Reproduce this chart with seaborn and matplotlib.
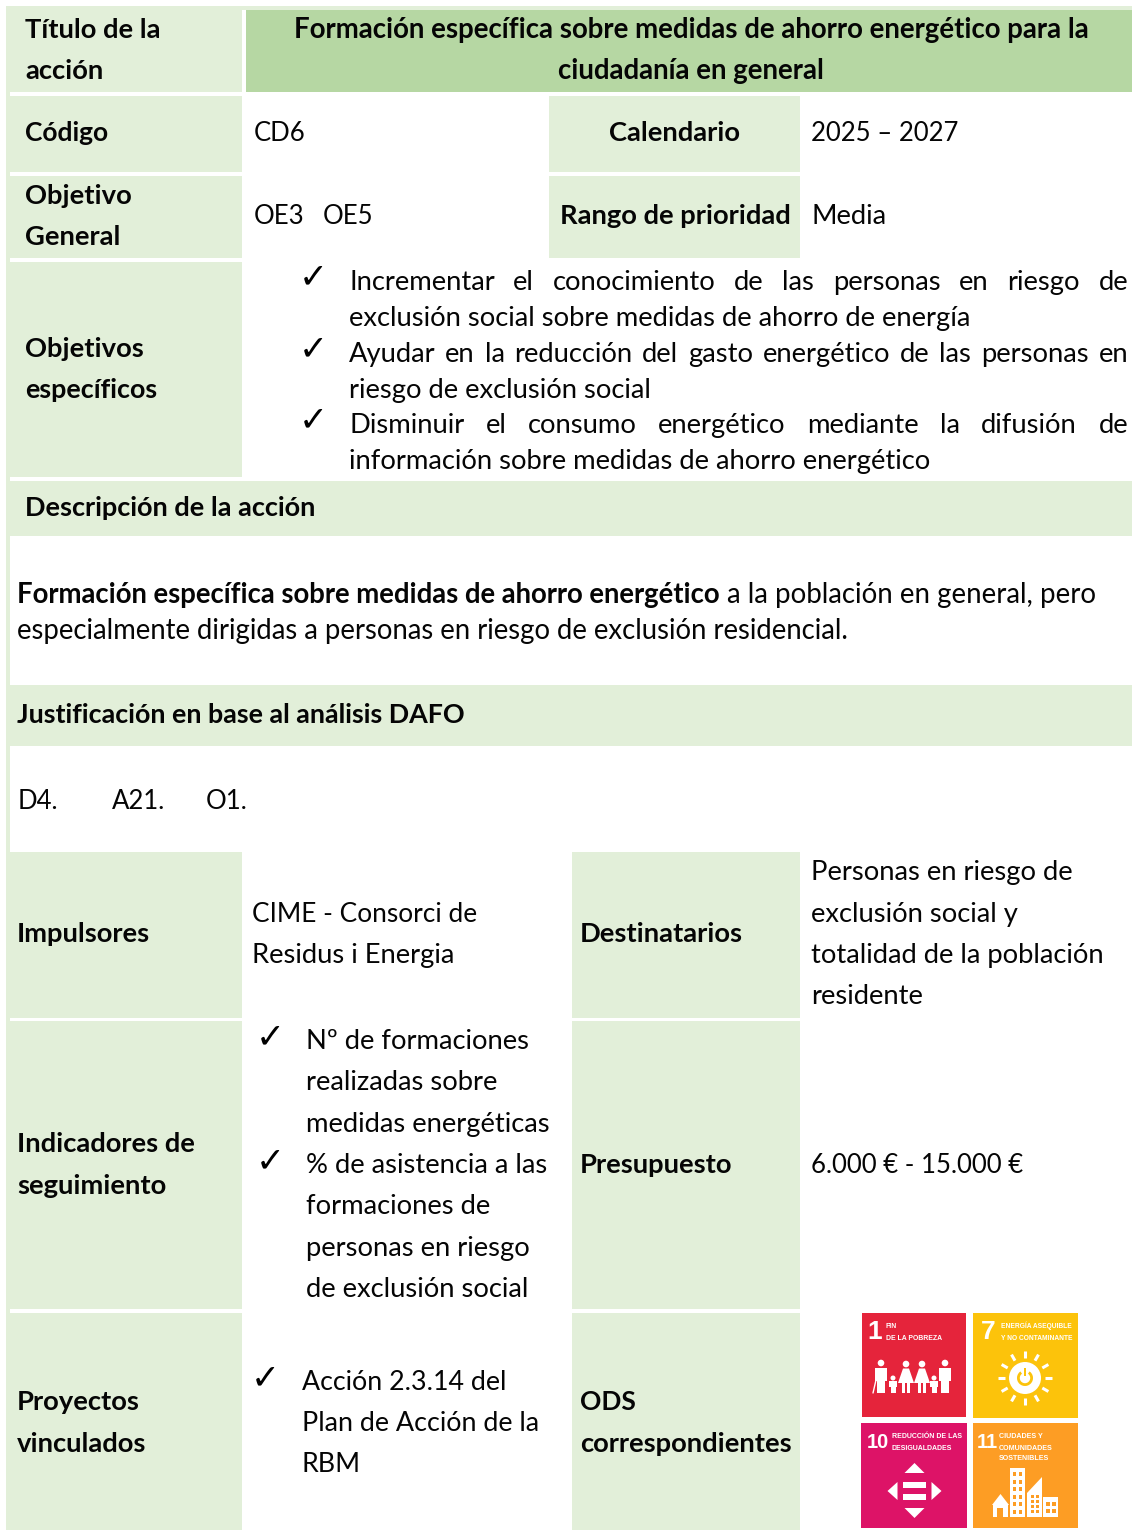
import matplotlib
matplotlib.use('Agg')
import matplotlib.pyplot as plt
from matplotlib.patches import Rectangle, Circle, Polygon, Wedge
import numpy as np
import seaborn as sns

# Textos de la ficha
titulo_lineas = ['Formación específica sobre medidas de ahorro energético para la',
                 'ciudadanía en general']
objetivos = [['Incrementar el conocimiento de las personas en riesgo de',
              'exclusión social sobre medidas de ahorro de energía'],
             ['Ayudar en la reducción del gasto energético de las personas en',
              'riesgo de exclusión social'],
             ['Disminuir el consumo energético mediante la difusión de',
              'información sobre medidas de ahorro energético']]
dafo = ['D4.', 'A21.', 'O1.']
impulsores = ['CIME - Consorci de', 'Residus i Energia']
destinatarios = ['Personas en riesgo de', 'exclusión social y',
                 'totalidad de la población', 'residente']
indicadores = [['Nº de formaciones', 'realizadas sobre', 'medidas energéticas'],
               ['% de asistencia a las', 'formaciones de',
                'personas en riesgo', 'de exclusión social']]
proyectos = ['Acción 2.3.14 del', 'Plan de Acción de la', 'RBM']

sns.set_theme(style='white')
plt.rcParams['font.family'] = ['Lato', 'DejaVu Sans']
claro, oscuro = sns.color_palette(['#e2efd9', '#b6d7a3'])
TINTA = '#050505'
FS = 19.7
FS_NUM = 18.5  # las cifras de Lato son mas anchas

fig, ax = plt.subplots(figsize=(11.32, 15.30), dpi=100)
ax.set_position([0, 0, 1, 1])

# Celdas: izquierda, arriba, derecha, abajo, color
celdas = [(6, 6, 1132, 10, claro), (6, 6, 10, 1530, claro),
          (10, 10, 242, 92, claro), (246, 10, 1132, 92, oscuro),
          (10, 96, 242, 172, claro), (549, 96, 800, 172, claro),
          (10, 176, 242, 258, claro), (549, 176, 800, 258, claro),
          (10, 262, 242, 477, claro), (10, 481, 1132, 536, claro),
          (10, 685, 1132, 746, claro),
          (10, 852, 242, 1018, claro), (572, 852, 800, 1018, claro),
          (10, 1021, 242, 1309, claro), (572, 1021, 800, 1309, claro),
          (10, 1313, 242, 1530, claro), (572, 1313, 800, 1530, claro)]
for x0, y0, x1, y1, col in celdas:
    sns.barplot(x=[x1 - x0], y=[(y0 + y1) / 2], orient='y', native_scale=True,
                width=y1 - y0, left=x0, color=col, saturation=1, linewidth=0, ax=ax)

ax.set_xlim(0, 1132)
ax.set_ylim(1530, 0)
ax.set_xticks([])
ax.set_yticks([])
ax.set_xlabel('')
ax.set_ylabel('')
sns.despine(ax=ax, left=True, bottom=True)


def txt(x, y, s, bold=False, ha='left', fs=FS, color=TINTA, **kw):
    # y es el centro de la linea, el +9 baja a la linea base
    return ax.text(x, y + 9, s, ha=ha, va='baseline', fontsize=fs, color=color,
                   fontweight='bold' if bold else 'normal', **kw)


def ancho(t):
    return t.get_window_extent(fig.canvas.get_renderer()).width


def justificado(x0, x1, y, linea):
    palabras = [txt(x0, y, p) for p in linea.split()]
    anchos = [ancho(p) for p in palabras]
    hueco = (x1 - x0 - sum(anchos)) / (len(palabras) - 1)
    x = x0
    for p, a in zip(palabras, anchos):
        p.set_x(x)
        x += a + hueco


def check(x, y):
    ax.text(x, y, '✓', ha='center', va='center', fontsize=25, color='black',
            family='DejaVu Sans', fontweight='bold')


# Fila del titulo
txt(25, 29, 'Título de la', True)
txt(25, 70, 'acción', True)
txt(691, 29, titulo_lineas[0], True, ha='center', fs=19.9)
txt(691, 70, titulo_lineas[1], True, ha='center', fs=19.9)

txt(25, 132, 'Código', True, fs=19)
txt(254, 132, 'CD6', fs=FS_NUM)
txt(675, 132, 'Calendario', True, ha='center')
txt(811, 132, '2025 – 2027', fs=FS_NUM)

txt(25, 195, 'Objetivo', True)
txt(25, 236, 'General', True)
txt(254, 215, 'OE3', fs=FS_NUM)
txt(323, 215, 'OE5', fs=FS_NUM)
txt(675, 215, 'Rango de prioridad', True, ha='center')
txt(811, 215, 'Media')

txt(25, 348, 'Objetivos', True)
txt(25, 389, 'específicos', True, fs=19.4)
for i, (ya, yb) in enumerate([(281, 317), (353, 389), (424, 460)]):
    check(313, ya - 4)
    justificado(349, 1128, ya, objetivos[i][0])
    txt(349, yb, objetivos[i][1])

txt(25, 507, 'Descripción de la acción', True, fs=19.5)
neg = txt(17, 594, 'Formación específica sobre medidas de ahorro energético', True, fs=19.8)
txt(727, 594, 'a la población en general, pero', fs=19.9)
txt(17, 630, 'especialmente dirigidas a personas en riesgo de exclusión residencial.', fs=19.8)

txt(17, 714, 'Justificación en base al análisis DAFO', True, fs=19.4)
for x, s in zip([18, 112, 206], dafo):
    txt(x, 800, s, fs=FS_NUM)

txt(17, 933, 'Impulsores', True)
txt(252, 913, impulsores[0], fs=18.9)
txt(252, 954, impulsores[1])
txt(580, 933, 'Destinatarios', True)
for y, s in zip([871, 913, 954, 995], destinatarios):
    txt(811, y, s)

txt(17, 1143, 'Indicadores de', True)
txt(17, 1185, 'seguimiento', True)
check(270, 1037)
check(270, 1161)
for y, s in zip([1040, 1081, 1123, 1164, 1205, 1247, 1288], indicadores[0] + indicadores[1]):
    txt(306, y, s)
txt(580, 1164, 'Presupuesto', True)
txt(811, 1164, '6.000 € - 15.000 €', fs=FS_NUM)

txt(17, 1401, 'Proyectos', True)
txt(17, 1443, 'vinculados', True)
check(265, 1378)
txt(302, 1381, proyectos[0], fs=19.3)
txt(302, 1422, proyectos[1], fs=19.4)
txt(302, 1463, proyectos[2], fs=19.3)
txt(580, 1401, 'ODS', True, fs=19)
txt(580, 1443, 'correspondientes', True)

# Iconos ODS
BL = 'white'
SANS = ['Liberation Sans', 'DejaVu Sans']


def losa(x0, y0, x1, y1, col, num, numx, numfs, lineas, tx, largo, ys):
    ax.add_patch(Rectangle((x0, y0), x1 - x0, y1 - y0, fc=col, ec='none'))
    ax.text(numx, y0 + 19, num, color=BL, fontsize=numfs, fontweight='bold', ha='center',
            va='center', family=SANS)
    textos = [ax.text(tx, y, s, color=BL, fontsize=6, fontweight='bold', va='center', family=SANS)
              for y, s in zip(ys, lineas)]
    # ajusta el cuerpo para que la linea larga mida lo del original
    fs = 6 * largo / max(ancho(t) for t in textos)
    for t in textos:
        t.set_fontsize(fs)


losa(862, 1313, 966, 1417, '#e5243b', '1', 875, 19, ['FIN', 'DE LA POBREZA'], 886, 56, [1327, 1339])
losa(973, 1313, 1078, 1418, '#fcc30b', '7', 988, 19, ['ENERGÍA ASEQUIBLE', 'Y NO CONTAMINANTE'], 1001, 72, [1326, 1338])
losa(861, 1423, 967, 1528, '#dd1367', '10', 878, 14.5, ['REDUCCIÓN DE LAS', 'DESIGUALDADES'], 892, 70, [1436, 1448])
losa(973, 1423, 1078, 1528, '#fd9d24', '11', 987, 14.5, ['CIUDADES Y', 'COMUNIDADES', 'SOSTENIBLES'], 999, 54, [1436, 1448, 1459])

# Familia (objetivo 1)
for cx in [881, 945]:
    ax.add_patch(Circle((cx, 1363), 3.3, fc=BL, ec='none'))
    ax.add_patch(Rectangle((cx - 6, 1367.5), 12, 13, fc=BL, ec='none'))
    ax.add_patch(Rectangle((cx - 3.6, 1380), 3.2, 13, fc=BL, ec='none'))
    ax.add_patch(Rectangle((cx + 0.4, 1380), 3.2, 13, fc=BL, ec='none'))
ax.plot([876, 873], [1380, 1393], color=BL, lw=1)
for cx in [906, 922]:
    ax.add_patch(Circle((cx, 1364), 3.3, fc=BL, ec='none'))
    ax.add_patch(Polygon([(cx - 3, 1368.5), (cx + 3, 1368.5), (cx + 8, 1383), (cx - 8, 1383)], fc=BL, ec='none'))
    ax.add_patch(Rectangle((cx - 3.6, 1383), 3, 10, fc=BL, ec='none'))
    ax.add_patch(Rectangle((cx + 0.6, 1383), 3, 10, fc=BL, ec='none'))
for cx in [893, 934]:
    ax.add_patch(Circle((cx, 1378), 2.5, fc=BL, ec='none'))
    ax.add_patch(Rectangle((cx - 4, 1381), 8, 6, fc=BL, ec='none'))
    ax.add_patch(Rectangle((cx - 2.5, 1386), 2.2, 7, fc=BL, ec='none'))
    ax.add_patch(Rectangle((cx + 0.3, 1386), 2.2, 7, fc=BL, ec='none'))

# Sol (objetivo 7)
AMA = '#fcc30b'
sol = (1025, 1378)
for ang in np.arange(0, 360, 30):
    c, s_ = np.cos(np.radians(ang)), np.sin(np.radians(ang))
    ax.plot([sol[0] + 20 * c, sol[0] + 27 * c], [sol[1] + 20 * s_, sol[1] + 27 * s_],
            color=BL, lw=2.2, solid_capstyle='butt')
ax.add_patch(Circle(sol, 16, fc=BL, ec='none'))
ax.add_patch(Wedge(sol, 8, -55, 235, width=2.8, fc=AMA, ec='none'))
ax.add_patch(Rectangle((sol[0] - 1.4, sol[1] - 10), 2.8, 8, fc=AMA, ec='none'))

# Flechas e igual (objetivo 10)
cx, cy = 914.5, 1491
ax.add_patch(Polygon([(cx, cy - 28), (cx - 10, cy - 18), (cx + 10, cy - 18)], fc=BL, ec='none'))
ax.add_patch(Polygon([(cx, cy + 27), (cx - 10, cy + 17), (cx + 10, cy + 17)], fc=BL, ec='none'))
ax.add_patch(Polygon([(cx - 27, cy), (cx - 17, cy - 9), (cx - 17, cy + 9)], fc=BL, ec='none'))
ax.add_patch(Polygon([(cx + 27, cy), (cx + 17, cy - 9), (cx + 17, cy + 9)], fc=BL, ec='none'))
ax.add_patch(Rectangle((cx - 11.5, cy - 9), 23, 6, fc=BL, ec='none'))
ax.add_patch(Rectangle((cx - 11.5, cy + 3), 23, 6, fc=BL, ec='none'))

# Ciudad (objetivo 11)
NAR = '#fd9d24'
ax.add_patch(Rectangle((993, 1505), 15, 12, fc=BL, ec='none'))
ax.add_patch(Polygon([(1000.5, 1494), (992, 1505), (1009, 1505)], fc=BL, ec='none'))
ax.add_patch(Rectangle((997, 1508), 6, 9, fc=NAR, ec='none'))
ax.add_patch(Rectangle((1009.5, 1468), 15.5, 49, fc=BL, ec='none'))
ax.add_patch(Polygon([(1027, 1517), (1027, 1493), (1042, 1477), (1042, 1517)], fc=BL, ec='none'))
ax.add_patch(Rectangle((1043, 1497), 15, 20, fc=BL, ec='none'))
for fx in [1012.5, 1019]:
    for fy in np.arange(1472, 1514, 7.5):
        ax.add_patch(Rectangle((fx, fy), 3.4, 4, fc=NAR, ec='none'))
for fx in [1030.5, 1036]:
    for fy in np.arange(1495, 1515, 5):
        ax.add_patch(Rectangle((fx, fy), 3, 2.6, fc=NAR, ec='none'))
for fx in [1046, 1052]:
    for fy in [1502, 1509]:
        ax.add_patch(Rectangle((fx, fy), 4, 4, fc=NAR, ec='none'))

fig.savefig('out.png', dpi=100)
